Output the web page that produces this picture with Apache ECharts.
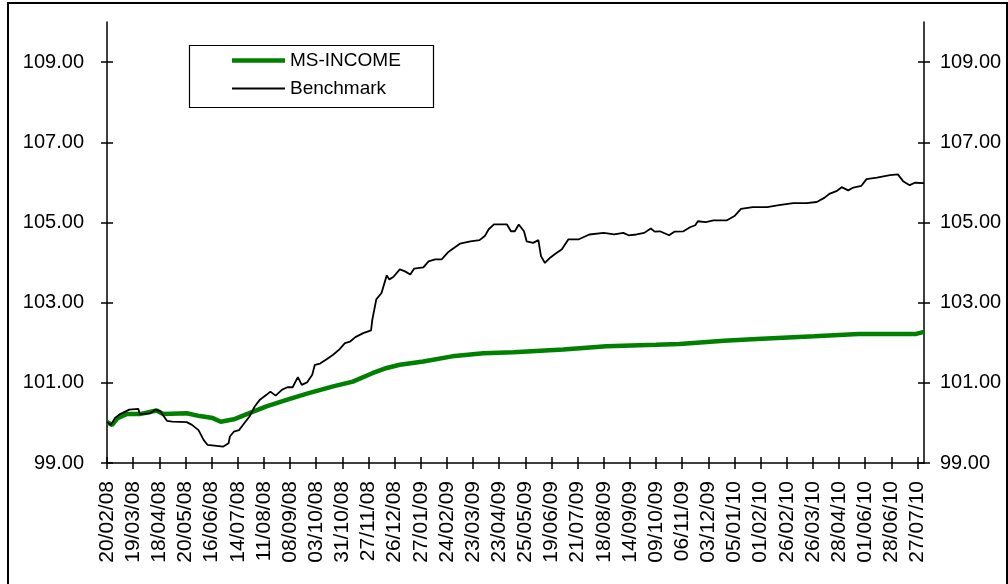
<!DOCTYPE html>
<html>
<head>
<meta charset="utf-8">
<script src="https://cdn.jsdelivr.net/npm/echarts@6.0.0/dist/echarts.min.js"></script>
<style>
  html, body { margin: 0; padding: 0; background: #fff; }
  #chart { width: 1008px; height: 584px; }
</style>
</head>
<body>
<div id="chart"></div>
<script>
// x labels, one every 20 trading days (index 0, 20, 40 ... 620)
const tickLabels = [
  '20/02/08', '19/03/08', '18/04/08', '20/05/08', '16/06/08', '14/07/08', '11/08/08',
  '08/09/08', '03/10/08', '31/10/08', '27/11/08', '26/12/08', '27/01/09', '24/02/09',
  '23/03/09', '23/04/09', '25/05/09', '19/06/09', '21/07/09', '18/08/09', '14/09/09',
  '09/10/09', '06/11/09', '03/12/09', '05/01/10', '01/02/10', '26/02/10', '26/03/10',
  '28/04/10', '01/06/10', '28/06/10', '27/07/10'
]
const lastDay = 625
const yTicks = [99, 101, 103, 105, 107, 109]

// MS-INCOME, read at trading-day index
const incomeIdx = [0, 4, 8, 15, 25, 38, 43, 61, 71, 81, 87, 97, 107, 122, 138, 153, 173, 188,
  203, 214, 224, 242, 264, 288, 311, 349, 382, 420, 438, 472, 497, 541, 575, 619, 625]
const incomeVal = [100.02, 99.95, 100.12, 100.22, 100.22, 100.31, 100.22, 100.24, 100.17, 100.12,
  100.03, 100.09, 100.22, 100.41, 100.58, 100.73, 100.91, 101.03, 101.24, 101.37, 101.45, 101.53,
  101.66, 101.74, 101.76, 101.83, 101.91, 101.95, 101.97, 102.05, 102.09, 102.16, 102.22, 102.22, 102.27]

// Benchmark
const benchIdx = [0, 3, 6, 10, 17, 24, 25, 33, 37, 41, 46, 50, 61, 65, 70, 74, 77, 78, 89, 93, 94,
  97, 101, 105, 109, 113, 117, 122, 125, 129, 134, 138, 142, 146, 149, 153, 157, 159, 163, 168,
  173, 178, 182, 186, 190, 196, 202, 203, 206, 210, 214, 216, 219, 224, 228, 232, 235, 242, 246,
  251, 256, 261, 264, 270, 278, 285, 289, 292, 296, 306, 309, 312, 315, 319, 321, 326, 330, 332,
  335, 339, 343, 348, 353, 361, 369, 380, 388, 395, 399, 405, 411, 416, 419, 423, 430, 434, 441,
  446, 450, 452, 458, 464, 474, 480, 485, 494, 505, 514, 525, 535, 543, 549, 553, 558, 562, 567,
  571, 577, 581, 589, 599, 605, 609, 614, 618, 625]
const benchVal = [100.02, 99.95, 100.12, 100.22, 100.33, 100.35, 100.22, 100.24, 100.33, 100.28,
  100.05, 100.03, 100.02, 99.95, 99.82, 99.57, 99.45, 99.41, 99.41, 99.49, 99.66, 99.78, 99.82,
  99.99, 100.16, 100.41, 100.58, 100.70, 100.78, 100.68, 100.83, 100.89, 100.89, 101.14, 100.95,
  101.01, 101.20, 101.45, 101.48, 101.59, 101.70, 101.84, 101.99, 102.03, 102.14, 102.24, 102.31,
  102.58, 103.08, 103.24, 103.68, 103.58, 103.64, 103.83, 103.78, 103.70, 103.85, 103.88, 104.03,
  104.08, 104.08, 104.26, 104.33, 104.47, 104.53, 104.56, 104.66, 104.83, 104.95, 104.95, 104.78,
  104.78, 104.95, 104.78, 104.53, 104.49, 104.56, 104.16, 103.99, 104.12, 104.22, 104.33, 104.58,
  104.58, 104.70, 104.74, 104.70, 104.74, 104.68, 104.70, 104.74, 104.85, 104.77, 104.78, 104.68,
  104.77, 104.78, 104.88, 104.93, 105.03, 105.01, 105.05, 105.05, 105.16, 105.34, 105.38, 105.38,
  105.43, 105.48, 105.48, 105.51, 105.62, 105.72, 105.78, 105.88, 105.80, 105.87, 105.91, 106.08,
  106.12, 106.18, 106.20, 106.03, 105.93, 105.99, 105.98]

const font = 'Liberation Sans'
const xTickVals = tickLabels.map((d, i) => i * 20)

function pairs(idx, val) {
  return idx.map((x, i) => [x, val[i]])
}

function xAxisOpt(grid, inside) {
  return {
    type: 'value',
    gridIndex: grid,
    min: 0,
    max: lastDay,
    splitLine: { show: false },
    axisLine: { show: !inside, onZero: false, lineStyle: { color: '#000', width: 1.5 } },
    axisTick: {
      show: true,
      inside: inside,
      length: 6,
      customValues: xTickVals,
      lineStyle: { color: '#000', width: 1.5 },
    },
    axisLabel: {
      show: !inside,
      customValues: xTickVals,
      rotate: 90,
      margin: 18,
      color: '#000',
      fontFamily: font,
      fontSize: 21,
      formatter: v => tickLabels[Math.round(v / 20)] || '',
    },
  }
}

function yAxisOpt(grid, pos, inside) {
  return {
    type: 'value',
    gridIndex: grid,
    position: pos,
    min: 99,
    max: 110,
    splitLine: { show: false },
    axisLine: { show: !inside, lineStyle: { color: '#000', width: 1.5 } },
    axisTick: {
      show: true,
      inside: inside,
      length: 6,
      customValues: yTicks,
      lineStyle: { color: '#000', width: 1.5 },
    },
    axisLabel: {
      show: !inside,
      customValues: yTicks,
      margin: pos === 'left' ? 23 : 16,
      color: '#000',
      fontFamily: font,
      fontSize: 20,
      formatter: v => v.toFixed(2),
    },
  }
}

const chart = echarts.init(document.getElementById('chart'), null, { renderer: 'canvas' })
const gridBox = { left: 107, right: 84, top: 22, bottom: 121 }

chart.setOption({
  animation: false,
  backgroundColor: '#fff',
  grid: [
    Object.assign({}, gridBox),
    Object.assign({}, gridBox),
  ],
  xAxis: [xAxisOpt(0, false), xAxisOpt(1, true)],
  yAxis: [
    yAxisOpt(0, 'left', false),
    yAxisOpt(0, 'right', false),
    yAxisOpt(1, 'left', true),
    yAxisOpt(1, 'right', true),
  ],
  legend: {
    left: 227,
    top: 46,
    orient: 'vertical',
    itemWidth: 53,
    itemHeight: 10,
    itemGap: 9,
    textStyle: { color: '#000', fontFamily: font, fontSize: 19 },
    data: [
      { name: 'MS-INCOME', icon: 'path://M0,2.8H53V7.2H0Z M0,0H0.01V10H0Z' },
      { name: 'Benchmark', icon: 'path://M0,4.1H53V5.9H0Z M0,0H0.01V10H0Z' },
    ],
  },
  graphic: [
    {
      type: 'rect',
      shape: { x: 8, y: 3, width: 999, height: 620 },
      style: { fill: 'none', stroke: '#000', lineWidth: 2 },
      silent: true,
    },
    {
      type: 'rect',
      shape: { x: 189.5, y: 45.5, width: 244, height: 62 },
      style: { fill: 'none', stroke: '#000', lineWidth: 1.2 },
      silent: true,
    },
  ],
  series: [
    {
      name: 'MS-INCOME',
      type: 'line',
      xAxisIndex: 0,
      yAxisIndex: 0,
      data: pairs(incomeIdx, incomeVal),
      symbol: 'none',
      lineStyle: { color: '#008000', width: 4.5 },
      itemStyle: { color: '#008000' },
    },
    {
      name: 'Benchmark',
      type: 'line',
      xAxisIndex: 0,
      yAxisIndex: 0,
      data: pairs(benchIdx, benchVal),
      symbol: 'none',
      lineStyle: { color: '#000', width: 1.8 },
      itemStyle: { color: '#000' },
    },
  ],
})
</script>
</body>
</html>
